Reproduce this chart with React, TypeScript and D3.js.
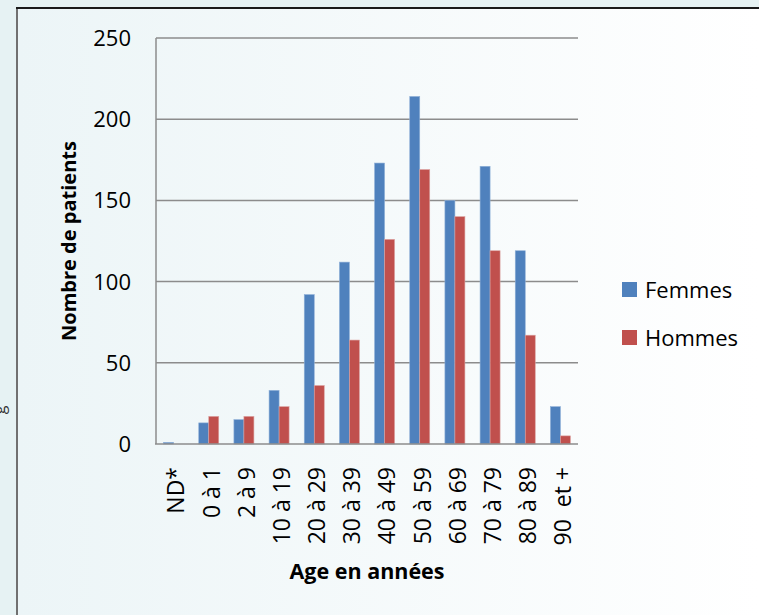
import React, { useEffect, useRef } from 'react';
import * as d3 from 'd3';

// data
const categories = ['ND*', '0 à 1', '2 à 9', '10 à 19', '20 à 29', '30 à 39', '40 à 49', '50 à 59', '60 à 69', '70 à 79', '80 à 89', '90\u00a0 et +'];
const femmes = [1, 13, 15, 33, 92, 112, 173, 214, 150, 171, 119, 23];
const hommes = [0, 17, 17, 23, 36, 64, 126, 169, 140, 119, 67, 5];
const seriesNames = ['Femmes', 'Hommes'];
const seriesColors = ['#4F81BD', '#C0504D'];
const yTicks = [0, 50, 100, 150, 200, 250];

const FONT = '"Open Sans", "Noto Sans", sans-serif';

const App: React.FC = () => {
  const svgRef = useRef<SVGSVGElement>(null);

  useEffect(() => {
    const W = 759, H = 615;
    const plot = { left: 156, top: 38, right: 578, bottom: 444 };

    const svg = d3.select(svgRef.current).attr('width', W).attr('height', H).html('');

    // background
    const defs = svg.append('defs');
    const grad = defs.append('linearGradient').attr('id', 'bg').attr('x1', '0').attr('x2', '1').attr('y1', '0').attr('y2', '0');
    grad.append('stop').attr('offset', '0%').attr('stop-color', '#ecf5f7');
    grad.append('stop').attr('offset', '100%').attr('stop-color', '#ffffff');

    svg.append('rect').attr('width', W).attr('height', H).attr('fill', '#e6f2f3');
    svg.append('rect').attr('x', 18).attr('y', 9).attr('width', W - 18).attr('height', H - 9).attr('fill', 'url(#bg)');
    svg.append('line').attr('x1', 17).attr('x2', 17).attr('y1', 8).attr('y2', H).attr('stroke', '#707070').attr('stroke-width', 2);
    svg.append('line').attr('x1', 16).attr('x2', W).attr('y1', 8).attr('y2', 8).attr('stroke', '#1a1a1a').attr('stroke-width', 2);

    // cut-off glyph at the left edge (as in the source image)
    svg.append('text')
      .attr('transform', 'translate(5,410) rotate(-90)')
      .attr('text-anchor', 'middle')
      .attr('font-family', FONT).attr('font-size', 16).attr('fill', '#333')
      .text('g');

    // scales
    const x0 = d3.scaleBand().domain(categories).range([plot.left, plot.right]);
    const x1 = d3.scaleBand().domain(seriesNames).range([0, 20]);
    const y = d3.scaleLinear().domain([0, 250]).range([plot.bottom, plot.top]);

    // gridlines
    svg.append('g').selectAll('line').data(yTicks.slice(1)).enter().append('line')
      .attr('x1', plot.left).attr('x2', plot.right)
      .attr('y1', d => y(d)).attr('y2', d => y(d))
      .attr('stroke', '#8c8c8c').attr('stroke-width', 1.5);

    // bars
    const series = [femmes, hommes];
    const groups = svg.append('g');
    categories.forEach((c, i) => {
      const cx = x0(c)! + x0.bandwidth() / 2 - 10;
      series.forEach((vals, s) => {
        const v = vals[i];
        if (v <= 0) return;
        groups.append('rect')
          .attr('x', cx + x1(seriesNames[s])!)
          .attr('y', y(v))
          .attr('width', x1.bandwidth())
          .attr('height', y(0) - y(v))
          .attr('fill', seriesColors[s])
          .attr('stroke', s === 0 ? '#8fb0d8' : '#dba3a1')
          .attr('stroke-width', 0.6);
      });
    });

    // axis lines
    svg.append('line').attr('x1', plot.left).attr('x2', plot.left).attr('y1', plot.top).attr('y2', plot.bottom)
      .attr('stroke', '#8c8c8c').attr('stroke-width', 1.5);
    svg.append('line').attr('x1', plot.left - 1).attr('x2', plot.right).attr('y1', plot.bottom).attr('y2', plot.bottom)
      .attr('stroke', '#8c8c8c').attr('stroke-width', 1.5);

    // y tick labels
    svg.append('g').selectAll('text').data(yTicks).enter().append('text')
      .attr('x', 131).attr('y', d => y(d)).attr('dy', '0.36em')
      .attr('text-anchor', 'end')
      .attr('font-family', FONT).attr('font-size', 22).attr('fill', '#000')
      .text(d => d);

    // x tick labels
    svg.append('g').selectAll('text').data(categories).enter().append('text')
      .attr('transform', d => `translate(${x0(d)! + x0.bandwidth() / 2 + 2.5},467) rotate(-90)`)
      .attr('dy', '0.36em')
      .attr('text-anchor', 'end')
      .attr('font-family', FONT).attr('font-size', 23).attr('fill', '#000')
      .text(d => d);

    // axis titles
    svg.append('text')
      .attr('x', (plot.left + plot.right) / 2).attr('y', 579)
      .attr('text-anchor', 'middle')
      .attr('font-family', FONT).attr('font-size', 21.5).attr('font-weight', 'bold')
      .text('Age en années');
    svg.append('text')
      .attr('transform', `translate(76,${(plot.top + plot.bottom) / 2}) rotate(-90)`)
      .attr('text-anchor', 'middle')
      .attr('font-family', FONT).attr('font-size', 20).attr('font-weight', 'bold')
      .text('Nombre de patients');

    // legend
    const legend = svg.append('g');
    seriesNames.forEach((name, i) => {
      const ly = 282 + i * 48;
      legend.append('rect').attr('x', 622).attr('y', ly).attr('width', 15).attr('height', 15).attr('fill', seriesColors[i]);
      legend.append('text').attr('x', 645).attr('y', ly + 16)
        .attr('font-family', FONT).attr('font-size', 22).attr('fill', '#000')
        .text(name);
    });
  }, []);

  return <svg ref={svgRef} style={{ position: 'absolute', left: 0, top: 0, display: 'block' }} />;
};

export default App;
